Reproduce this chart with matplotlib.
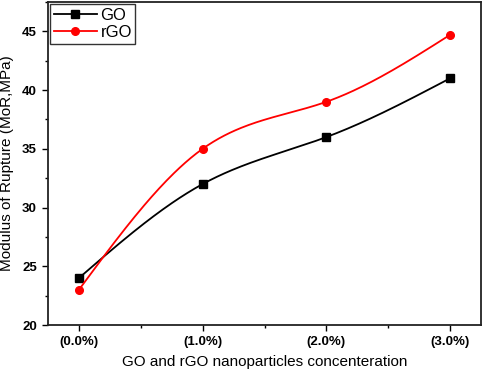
import numpy as np
import matplotlib.pyplot as plt
from matplotlib.ticker import MultipleLocator

categories = ['(0.0%)', '(1.0%)', '(2.0%)', '(3.0%)']
go_values = [24.0, 32.0, 36.0, 41.0]
rgo_values = [23.0, 35.0, 39.0, 44.7]


def natural_spline(x, y, num=200):
    '''Natural cubic spline through the given points.'''
    x = np.asarray(x, float)
    y = np.asarray(y, float)
    n = len(x)
    h = np.diff(x)
    a = np.zeros((n, n))
    b = np.zeros(n)
    a[0, 0] = a[-1, -1] = 1
    for i in range(1, n - 1):
        a[i, i - 1] = h[i - 1]
        a[i, i] = 2 * (h[i - 1] + h[i])
        a[i, i + 1] = h[i]
        b[i] = 3 * ((y[i + 1] - y[i]) / h[i] - (y[i] - y[i - 1]) / h[i - 1])
    c = np.linalg.solve(a, b)
    xs = np.linspace(x[0], x[-1], num)
    ys = np.empty_like(xs)
    for k, xv in enumerate(xs):
        i = min(np.searchsorted(x, xv, side='right') - 1, n - 2)
        dx = xv - x[i]
        bi = (y[i + 1] - y[i]) / h[i] - h[i] * (2 * c[i] + c[i + 1]) / 3
        di = (c[i + 1] - c[i]) / (3 * h[i])
        ys[k] = y[i] + bi * dx + c[i] * dx ** 2 + di * dx ** 3
    return xs, ys


plt.rcParams['font.family'] = ['Liberation Sans', 'DejaVu Sans']
fig = plt.figure(figsize=(4.84, 3.75), dpi=100)
ax = fig.add_axes([0.099, 0.133, 0.895, 0.862])

pos = np.arange(len(categories))
for vals, color, marker, label in [(go_values, 'black', 's', 'GO'),
                                   (rgo_values, 'red', 'o', 'rGO')]:
    xs, ys = natural_spline(pos, vals)
    ax.plot(xs, ys, color=color, lw=1.3)
    ax.plot(pos, vals, color=color, marker=marker, ms=5.5, ls='none')
    ax.plot([], [], color=color, marker=marker, ms=5.5, lw=1.3, label=label)

ax.set_xlim(-0.25, 3.25)
ax.set_ylim(20, 47.5)
ax.set_xticks(pos)
ax.set_xticklabels(categories, fontweight='bold', fontsize=9.5)
ax.xaxis.set_minor_locator(MultipleLocator(0.5))
ax.yaxis.set_major_locator(MultipleLocator(5))
ax.yaxis.set_minor_locator(MultipleLocator(2.5))
for lbl in ax.get_yticklabels():
    lbl.set_fontweight('bold')
    lbl.set_fontsize(9.5)
ax.tick_params(which='major', direction='out', length=4, width=1)
ax.tick_params(axis='x', which='major', pad=4)
ax.tick_params(axis='y', which='major', pad=4)
ax.tick_params(which='minor', direction='out', length=2.5, width=1)
for sp in ax.spines.values():
    sp.set_linewidth(1.3)
    sp.set_color('#222222')

ax.set_xlabel('GO and rGO nanoparticles concenteration', fontsize=11, labelpad=5)
ax.set_ylabel('Modulus of Rupture (MoR,MPa)', fontsize=11, labelpad=6)

leg = ax.legend(loc='upper left', fontsize=12, frameon=True, fancybox=False,
                handlelength=2.6, handletextpad=0.2, borderpad=0.2,
                labelspacing=0.15, borderaxespad=0.15)
leg.get_frame().set_edgecolor('black')
leg.get_frame().set_linewidth(1)

fig.savefig('out.png', dpi=100)
